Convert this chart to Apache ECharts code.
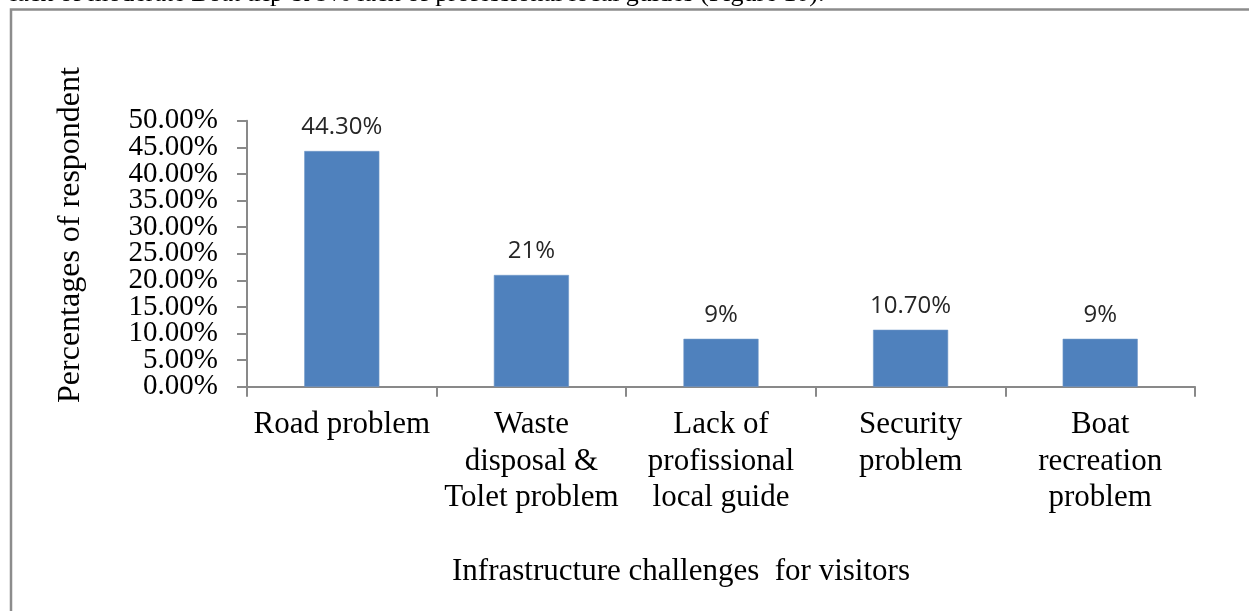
<!DOCTYPE html>
<html>
<head>
<meta charset="utf-8">
<title>Infrastructure challenges for visitors</title>
<script src="https://cdn.jsdelivr.net/npm/echarts@6/dist/echarts.min.js"></script>
<style>
  html, body { margin: 0; padding: 0; background: #ffffff; }
  #chart { width: 1249px; height: 611px; }
</style>
</head>
<body>
<div id="chart"></div>
<script>
// Survey results: infrastructure challenges reported by visitors
const categories = [
  'Road problem',
  'Waste\ndisposal &\nTolet problem',
  'Lack of\nprofissional\nlocal guide',
  'Security\nproblem',
  'Boat\nrecreation\nproblem'
];
const percentages = [44.3, 21, 9, 10.7, 9];
const valueLabels = ['44.30%', '21%', '9%', '10.70%', '9%'];
const yTickValues = [0, 5, 10, 15, 20, 25, 30, 35, 40, 45, 50];
const yMin = 0, yMax = 50, yStep = 5, yDecimals = 2;

const yAxisTitle = 'Percentages of respondent';
const xAxisTitle = 'Infrastructure challenges  for visitors';
const leadText = 'lack of moderate Boat trip & 9% lack of professional local guides (Figure 10).';

const serif = '"Liberation Serif", "Times New Roman", serif';
const sans = '"Open Sans", "Noto Sans", sans-serif';
const axisGray = '#898989';
const frameGray = '#8c8c8c';

// The tick labels are packed tighter than their font height, so they are split
// over two overlaid axes (alternate ticks each) to keep every one of them drawn.
const labelsA = yTickValues.filter((v, i) => i % 2 === 0);
const labelsB = yTickValues.filter((v, i) => i % 2 === 1);
const fmtPct = v => v.toFixed(yDecimals) + '%';
const tickLabelStyle = {
  margin: 29,
  color: '#000000',
  fontFamily: serif,
  fontSize: 29,
  hideOverlap: false,
  formatter: fmtPct
};

const chart = echarts.init(document.getElementById('chart'), null, { renderer: 'canvas' });

chart.setOption({
  animation: false,
  backgroundColor: '#ffffff',
  grid: {
    left: 247,
    right: 54,
    top: 120.7,
    bottom: 224.3,
    containLabel: false,
    outerBoundsMode: 'none'
  },
  xAxis: {
    type: 'category',
    data: categories,
    boundaryGap: true,
    axisLine: { show: true, lineStyle: { color: axisGray, width: 2 } },
    axisTick: { show: true, alignWithLabel: false, length: 10, lineStyle: { color: axisGray, width: 2 } },
    axisLabel: {
      interval: 0,
      margin: 20,
      color: '#000000',
      fontFamily: serif,
      fontSize: 31,
      lineHeight: 36.5,
      align: 'center',
      hideOverlap: false
    },
    splitLine: { show: false }
  },
  yAxis: [
    {
      type: 'value',
      min: yMin,
      max: yMax,
      interval: yStep,
      axisLine: { show: true, lineStyle: { color: axisGray, width: 2 } },
      axisTick: { show: true, inside: false, length: 10, lineStyle: { color: axisGray, width: 2 } },
      axisLabel: Object.assign({ customValues: labelsA, showMinLabel: true, showMaxLabel: true }, tickLabelStyle),
      splitLine: { show: false }
    },
    {
      type: 'value',
      position: 'left',
      offset: 0,
      min: yMin,
      max: yMax,
      interval: yStep,
      axisLine: { show: false },
      axisTick: { show: false },
      axisLabel: Object.assign({ customValues: labelsB }, tickLabelStyle),
      splitLine: { show: false }
    }
  ],
  series: [{
    type: 'bar',
    yAxisIndex: 0,
    data: percentages,
    barWidth: '39.6%',
    itemStyle: { color: '#4F81BD', borderColor: '#6f97c8', borderWidth: 0.6 },
    label: {
      show: true,
      position: 'top',
      distance: 12,
      color: '#262626',
      fontFamily: sans,
      fontSize: 24,
      formatter: p => valueLabels[p.dataIndex]
    }
  }],
  graphic: [
    {
      // running text line above the figure box
      type: 'text',
      x: 10,
      y: 7,
      z: 10,
      style: {
        text: leadText,
        font: '26px ' + serif,
        fill: '#000000',
        align: 'left',
        verticalAlign: 'bottom'
      }
    },
    {
      // figure frame: top and left edges
      type: 'polyline',
      z: 0,
      shape: { points: [[11, 700], [11, 9.5], [1260, 9.5]] },
      style: { fill: null, stroke: frameGray, lineWidth: 2.5 }
    },
    {
      type: 'text',
      x: 71,
      y: 235,
      rotation: Math.PI / 2,
      z: 10,
      style: {
        text: yAxisTitle,
        font: '32px ' + serif,
        fill: '#000000',
        align: 'center',
        verticalAlign: 'middle'
      }
    },
    {
      type: 'text',
      x: 681,
      y: 572,
      z: 10,
      style: {
        text: xAxisTitle,
        font: '31px ' + serif,
        fill: '#000000',
        align: 'center',
        verticalAlign: 'middle'
      }
    }
  ]
});
</script>
</body>
</html>
